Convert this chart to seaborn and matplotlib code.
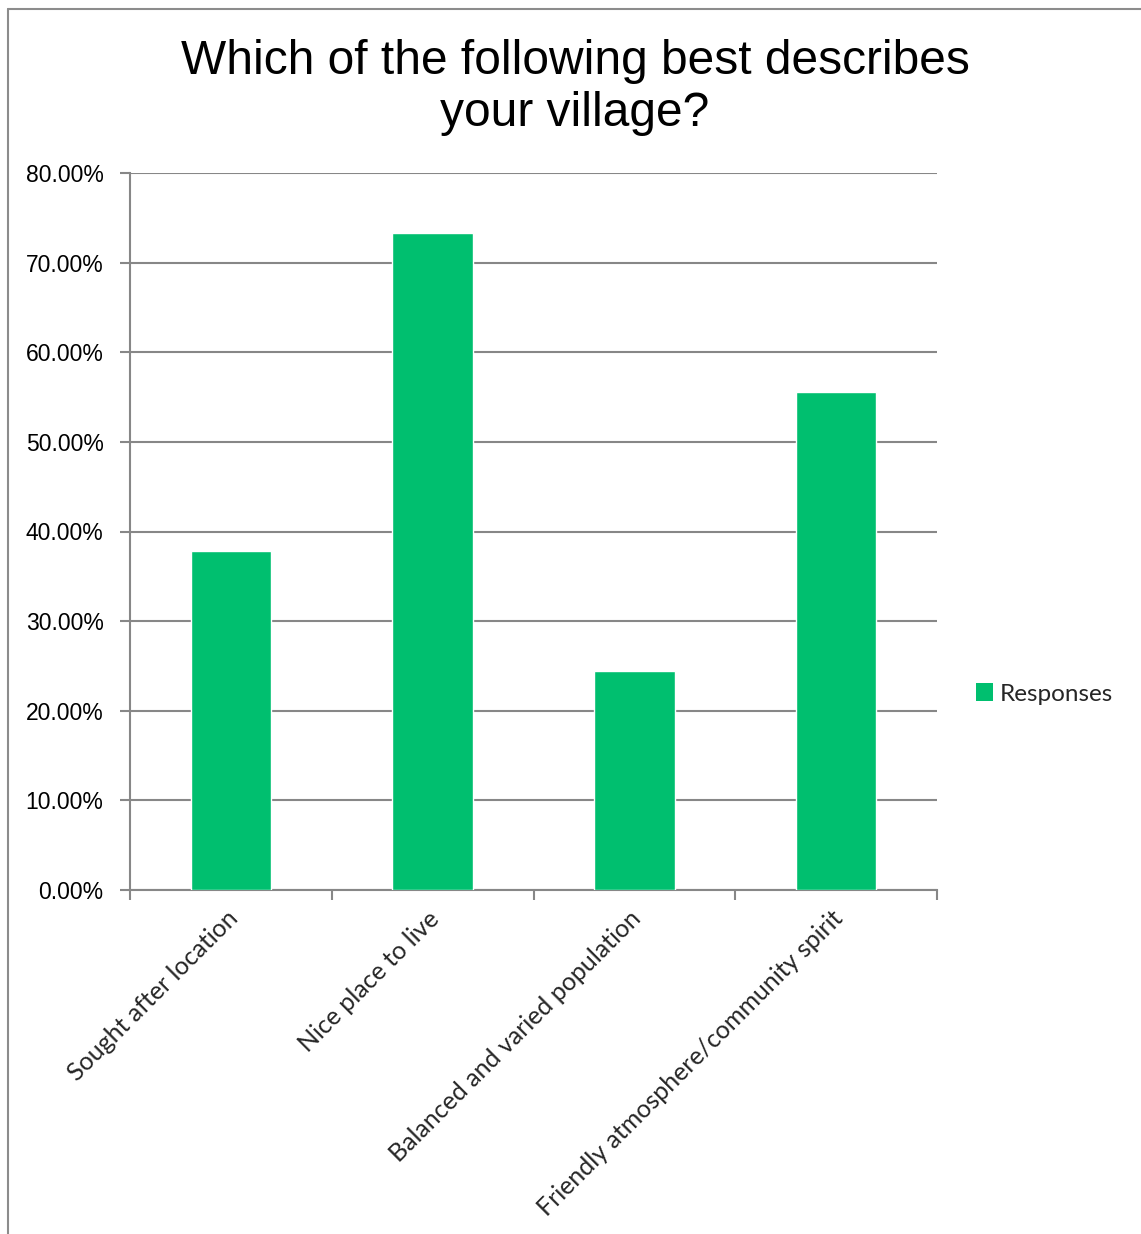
import matplotlib
matplotlib.use("Agg")
import matplotlib.pyplot as plt
import matplotlib.transforms as mtransforms
from matplotlib.lines import Line2D
from matplotlib.patches import Patch
from matplotlib.ticker import FixedLocator, PercentFormatter
import seaborn as sns
import pandas as pd

categories = [
    "Sought after location",
    "Nice place to live",
    "Balanced and varied population",
    "Friendly atmosphere/community spirit",
]
responses = [37.78, 73.33, 24.44, 55.56]
series_name = "Responses"
title = "Which of the following best describes\nyour village?"

df = pd.DataFrame({"category": categories, "value": responses})

sns.set_theme(style="white")
plt.rcParams["font.family"] = ["Liberation Sans", "DejaVu Sans"]

green = "#00BF6F"
grid_grey = "#878787"

W, H = 1141, 1234
fig = plt.figure(figsize=(W / 100, H / 100), dpi=100)
fig.patch.set_facecolor("white")
ax = fig.add_axes([130 / W, 1 - 890 / H, (937 - 130) / W, (890 - 173) / H])

sns.barplot(data=df, x="category", y="value", color=green, width=0.4,
            saturation=1, ax=ax, zorder=3)

ax.set_ylim(0, 80)
ax.set_xlim(-0.5, len(categories) - 0.5)
ax.set_yticks(range(0, 81, 10))
ax.yaxis.set_major_formatter(PercentFormatter(decimals=2))
ax.grid(axis="y", color=grid_grey, linewidth=1.5, zorder=0)
ax.set_axisbelow(True)

for side in ("top", "right"):
    ax.spines[side].set_visible(False)
for side in ("left", "bottom"):
    ax.spines[side].set_color(grid_grey)
    ax.spines[side].set_linewidth(1.5)

ax.tick_params(axis="y", which="major", direction="out", length=7, width=1.5,
               color=grid_grey, left=True, labelsize=16.5, pad=12,
               labelcolor="black")
ax.tick_params(axis="x", which="major", length=0, pad=12)
ax.xaxis.set_minor_locator(FixedLocator([i - 0.5 for i in range(len(categories) + 1)]))
ax.tick_params(axis="x", which="minor", direction="out", length=7, width=1.5,
               color=grid_grey, bottom=True)

ax.set_xlabel("")
ax.set_ylabel("")
ax.set_xticks(range(len(categories)))
ax.set_xticklabels(categories, rotation=45, ha="right", va="top",
                   rotation_mode="anchor", fontsize=18,
                   family=["Lato", "DejaVu Sans"])
shift = mtransforms.ScaledTranslation(-5 / 100, 0, fig.dpi_scale_trans)
for lbl in ax.get_xticklabels():
    lbl.set_transform(lbl.get_transform() + shift)

fig.text(575 / W, 1 - 88 / H, title, ha="center", va="center",
         fontsize=34.5, linespacing=1.2, color="black")

handles = [Patch(facecolor=green, edgecolor="none", label=series_name)]
fig.legend(handles=handles, loc="center left",
           bbox_to_anchor=(954 / W, 1 - 694 / H), frameon=False,
           handlelength=0.7, handleheight=0.7, handletextpad=0.3,
           prop={"family": ["Lato", "DejaVu Sans"], "size": 17.5})

# chart area border
fig.add_artist(Line2D([8 / W, 8 / W], [0, 1 - 9 / H], color="#8c8c8c",
                      linewidth=1.5, transform=fig.transFigure))
fig.add_artist(Line2D([8 / W, 1], [1 - 9 / H, 1 - 9 / H], color="#8c8c8c",
                      linewidth=1.5, transform=fig.transFigure))

fig.savefig("out.png", dpi=100, facecolor="white")
